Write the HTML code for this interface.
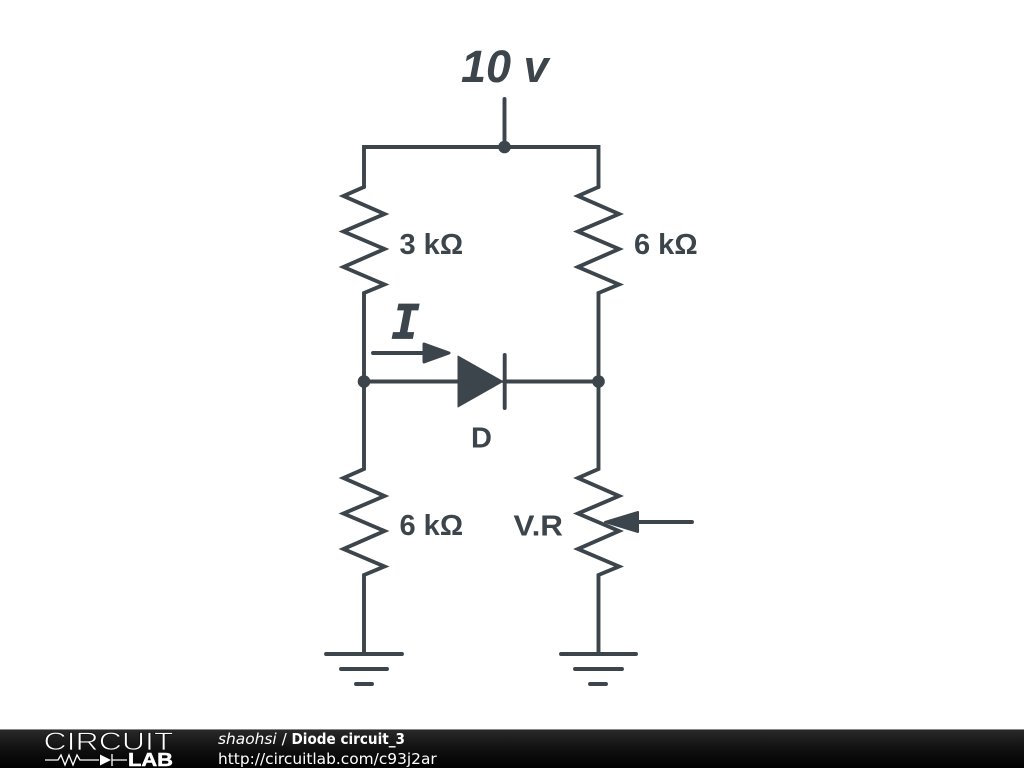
<!DOCTYPE html>
<html><head><meta charset="utf-8"><style>
html,body{margin:0;padding:0;background:#fff;width:1024px;height:768px;overflow:hidden}
svg{display:block;position:absolute;left:0;top:0}
</style></head><body>
<svg width="1024" height="768" viewBox="0 0 1024 768" xmlns="http://www.w3.org/2000/svg">
<defs><linearGradient id="bar" x1="0" y1="0" x2="0" y2="1"><stop offset="0" stop-color="#2a2a2a"/><stop offset="0.5" stop-color="#111"/><stop offset="1" stop-color="#000"/></linearGradient></defs>
<g fill="none" stroke="#3c454b" stroke-width="3.9" stroke-linecap="round" stroke-linejoin="miter">
<path d="M504.5 99V147"/>
<path d="M364 187V147H598.5V187"/>
<path d="M364 187L343.5 196L384.5 214L343.5 231.500L384.5 249L343.5 267L384.5 284.500L364 293V469L343.500 478L384.5 496L343.5 513.500L384.5 531L343.5 549L384.5 566.500L364 575V654"/>
<path d="M598.5 187L578 196L619 214L578 231.500L619 249L578 267L619 284.500L598.5 293V469L578 478L619 496L578 513.500L619 531L578 549L619 566.500L598.5 575V654"/>
<path d="M364 381.500H458M504 381.500H598.5"/>
<path d="M504.7 355V408"/>
<path d="M326 654H402M341 669H387M356 684H372"/>
<path d="M561 654H636M575 669H622M590 684H606"/>
<path d="M373 353H425"/>
<path d="M692 522H636"/>
</g>
<g fill="#3c454b" stroke="#3c454b" stroke-linejoin="round">
<circle cx="504.5" cy="147" r="6.300" stroke="none"/>
<circle cx="364" cy="381.5" r="6.300" stroke="none"/>
<circle cx="598.5" cy="381.5" r="6.300" stroke="none"/>
<path d="M458 356L503 381.5L458 407Z" stroke-width="1"/>
<path d="M424 344L449 353L424 362Z" stroke-width="3"/>
<path d="M605 522L638 512V532Z" stroke-width="2"/>
</g>
<g fill="#3c454b" font-family="'Liberation Sans',sans-serif" font-weight="bold">
<text x="461" y="82" font-size="45" font-style="italic">10 v</text>
<text x="399.500" y="254" font-size="29">3 kΩ</text>
<text x="634" y="254" font-size="29">6 kΩ</text>
<text x="399.500" y="535" font-size="29">6 kΩ</text>
<text x="513.500" y="535.500" font-size="29" textLength="49.500" lengthAdjust="spacingAndGlyphs">V.R</text>
<text x="471" y="447.500" font-size="29">D</text>
<text x="391.500" y="338.500" font-size="47" font-style="italic" font-family="'DejaVu Sans Mono',monospace" stroke="#3c454b" stroke-width="0.8">I</text>
</g>
<rect x="0" y="729" width="1024" height="39" fill="url(#bar)"/>
<rect x="0" y="729" width="1024" height="1" fill="#888"/>
<text x="43.5" y="750" font-family="'Liberation Sans',sans-serif" font-size="25" fill="#fff" stroke="#141414" stroke-width="0.8" paint-order="fill stroke" textLength="130" lengthAdjust="spacingAndGlyphs">CIRCUIT</text>
<text x="128" y="766" font-family="'Liberation Sans',sans-serif" font-size="18" font-weight="bold" fill="#fff" stroke="#fff" stroke-width="0.5" textLength="45" lengthAdjust="spacingAndGlyphs">LAB</text>
<g fill="none" stroke="#fff" stroke-width="1.3">
<path d="M45 760H58L61 755L65 765L69 755L73 765L77 755L80 760H99M112 760H127"/>
<path d="M112 754V766"/>
</g>
<path d="M100 754.5L111 760L100 765.5Z" fill="#fff"/>
<text x="218" y="744" font-family="'DejaVu Sans',sans-serif" font-size="15.4" fill="#fff"><tspan font-style="italic">shaohsi</tspan> / </text>
<text x="291.500" y="744" font-family="'DejaVu Sans',sans-serif" font-size="15" font-weight="bold" fill="#fff" textLength="113.500" lengthAdjust="spacingAndGlyphs">Diode circuit_3</text>
<text x="218" y="764" font-family="'DejaVu Sans',sans-serif" font-size="15.4" fill="#fff">http://circuitlab.com/c93j2ar</text>
</svg>
</body></html>
